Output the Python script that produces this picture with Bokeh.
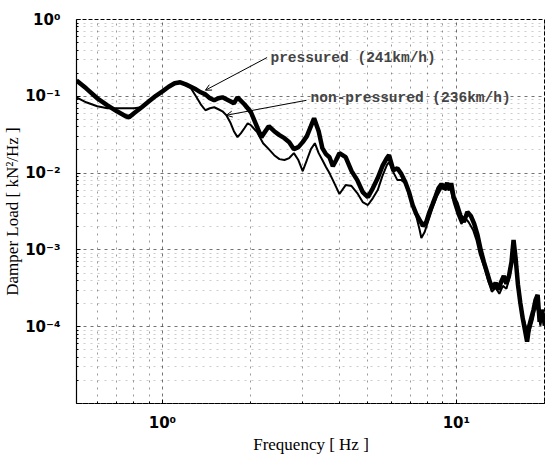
from bokeh.plotting import figure
from bokeh.models import (Range1d, FixedTicker, CustomJSTickFormatter, Label,
                          Arrow, OpenHead)
from bokeh.embed import file_html
from bokeh.resources import INLINE

# Damper load power spectral density, pressured damper (241 km/h)
freq_p = [0.51, 0.55, 0.6, 0.65, 0.7, 0.75, 0.77, 0.8, 0.85, 0.9, 0.95, 1.0, 1.05,
          1.1, 1.15, 1.2, 1.3, 1.35, 1.4, 1.45, 1.5, 1.55, 1.6, 1.7, 1.75, 1.8, 1.9,
          1.95, 2.0, 2.1, 2.17, 2.3, 2.4, 2.5, 2.6, 2.7, 2.8, 2.9, 3.0, 3.1, 3.2,
          3.28, 3.4, 3.5, 3.6, 3.7, 3.8, 3.9, 4.0, 4.2, 4.4, 4.6, 4.8, 5.0, 5.2,
          5.4, 5.6, 5.8, 5.9, 6.1, 6.3, 6.5, 6.7, 6.9, 7.1, 7.3, 7.5, 7.7, 7.9,
          8.1, 8.3, 8.5, 8.7, 8.9, 9.1, 9.3, 9.5, 9.6, 9.8, 10.0, 10.3, 10.6,
          10.9, 11.2, 11.5, 11.8, 12.1, 12.4, 12.7, 13.0, 13.3, 13.6, 13.9, 14.2,
          14.5, 14.8, 15.1, 15.4, 15.65, 15.9, 16.2, 16.5, 16.8, 17.1, 17.4,
          17.7, 18.0, 18.3, 18.6, 18.9, 19.2, 19.5, 19.8, 20.0]
load_p = [0.161, 0.127, 0.0942, 0.0764, 0.0638, 0.055, 0.0534, 0.0602, 0.072,
          0.0861, 0.1015, 0.116, 0.133, 0.1476, 0.152, 0.143, 0.1233, 0.1127,
          0.106, 0.0942, 0.0887, 0.0942, 0.097, 0.0861, 0.0811, 0.097, 0.0787,
          0.0699, 0.062, 0.0396, 0.0294, 0.0408, 0.0351, 0.0312, 0.0285, 0.0253,
          0.0205, 0.0218, 0.0253, 0.0303, 0.0408, 0.0518, 0.0351, 0.0211, 0.0177,
          0.0161, 0.0123, 0.0148, 0.0182, 0.0161, 0.0106, 0.00811, 0.00567,
          0.00488, 0.00638, 0.00861, 0.0123, 0.0157, 0.0171, 0.0109, 0.0116,
          0.0097, 0.00764, 0.00567, 0.00384, 0.00294, 0.00245, 0.00205, 0.00231,
          0.00312, 0.00396, 0.00503, 0.00638, 0.0072, 0.00638, 0.00741, 0.00601,
          0.00741, 0.00473, 0.00408, 0.00285, 0.00231, 0.00312, 0.00277, 0.00218,
          0.00157, 0.001, 0.000698, 0.000518, 0.000384, 0.000312, 0.000373,
          0.000303, 0.000384, 0.000459, 0.000361, 0.000459, 0.000698, 0.00135,
          0.000787, 0.000351, 0.000205, 0.000131, 0.0000915, 0.0000639, 0.000103,
          0.000131, 0.000166, 0.000224, 0.00026, 0.000116, 0.000166, 0.000131,
          0.000103]

# Damper load power spectral density, non-pressured damper (236 km/h)
freq_np = [0.51, 0.55, 0.6, 0.65, 0.7, 0.8, 0.85, 0.9, 0.95, 1.0, 1.05, 1.1, 1.15,
           1.2, 1.25, 1.3, 1.35, 1.4, 1.45, 1.5, 1.55, 1.6, 1.65, 1.7, 1.75, 1.8,
           1.85, 1.9, 1.95, 2.0, 2.1, 2.2, 2.3, 2.4, 2.5, 2.6, 2.7, 2.8, 2.9, 3.0,
           3.1, 3.2, 3.3, 3.4, 3.5, 3.6, 3.7, 3.8, 3.9, 4.0, 4.2, 4.4, 4.6, 4.8,
           5.0, 5.2, 5.4, 5.6, 5.8, 5.9, 6.1, 6.3, 6.5, 6.7, 6.9, 7.1, 7.3, 7.5,
           7.6, 7.8, 8.0, 8.3, 8.6, 8.9, 9.2, 9.5, 9.8, 10.1, 10.4, 10.7, 11.0,
           11.4, 11.7, 12.0, 12.4, 12.8, 13.2, 13.6, 14.0, 14.4, 14.8, 15.2, 15.5,
           15.75, 16.1, 16.4, 16.8, 17.2, 17.5, 17.8, 18.2, 18.6, 19.0, 19.3,
           19.6, 20.0]
load_np = [0.097, 0.0836, 0.0742, 0.0699, 0.0699, 0.0699, 0.072, 0.0861, 0.103,
           0.118, 0.131, 0.143, 0.1497, 0.143, 0.127, 0.1, 0.0787, 0.0658, 0.0699,
           0.072, 0.0678, 0.0638, 0.0567, 0.046, 0.0351, 0.0294, 0.0331, 0.0384,
           0.0446, 0.042, 0.0341, 0.0245, 0.0205, 0.0171, 0.0152, 0.0148, 0.0157,
           0.0182, 0.0148, 0.0106, 0.0148, 0.0205, 0.0245, 0.0182, 0.0148, 0.012,
           0.01, 0.00811, 0.00658, 0.00534, 0.00698, 0.00678, 0.0055, 0.0042,
           0.00384, 0.00473, 0.00601, 0.00914, 0.0127, 0.0139, 0.0103, 0.00811,
           0.00811, 0.00741, 0.00518, 0.00384, 0.00277, 0.00182, 0.00143, 0.00171,
           0.00231, 0.00351, 0.00503, 0.00638, 0.00601, 0.00678, 0.00408, 0.00285,
           0.00218, 0.0026, 0.00231, 0.00182, 0.00135, 0.000887, 0.00062,
           0.000408, 0.000285, 0.000321, 0.000268, 0.00034, 0.000312, 0.000459,
           0.000836, 0.00106, 0.000518, 0.000253, 0.000143, 0.000103, 0.0000764,
           0.0000915, 0.000123, 0.000188, 0.000157, 0.000103, 0.000139, 0.000116]

x_major = [1, 10]
x_minor = [0.6, 0.7, 0.8, 0.9, 2, 3, 4, 5, 6, 7, 8, 9, 20]
y_major = [1e-5, 1e-4, 1e-3, 1e-2, 1e-1, 1]
y_minor = [m * d for d in [1e-5, 1e-4, 1e-3, 1e-2, 1e-1] for m in range(2, 10)]

p = figure(width=545, height=456, x_axis_type="log", y_axis_type="log",
           x_range=Range1d(0.51, 20.1), y_range=Range1d(1e-5, 1),
           output_backend="svg", toolbar_location=None,
           min_border_left=76, min_border_right=0, min_border_top=19,
           min_border_bottom=51)
p.background_fill_color = "white"
p.border_fill_color = "white"
p.outline_line_color = "black"
p.outline_line_dash = "4 2"
p.outline_line_width = 1

p.xaxis.ticker = FixedTicker(ticks=x_major, minor_ticks=x_minor)
p.yaxis.ticker = FixedTicker(ticks=y_major, minor_ticks=y_minor)

fmt = CustomJSTickFormatter(code="""
const sup = {"-": "\u207b", "0": "\u2070", "1": "\u00b9", "2": "\u00b2", "3": "\u00b3",
             "4": "\u2074", "5": "\u2075", "6": "\u2076", "7": "\u2077", "8": "\u2078", "9": "\u2079"};
const e = Math.round(Math.log10(tick));
if (e < -4) { return ""; }
return "10" + String(e).split("").map(c => sup[c]).join("");
""")
for ax in (p.xaxis[0], p.yaxis[0]):
    ax.formatter = fmt
    ax.major_label_text_font = "DejaVu Sans"
    ax.major_label_text_font_style = "bold"
    ax.major_label_text_font_size = "15px"
    ax.major_label_text_color = "black"
    ax.major_tick_in = 4
    ax.major_tick_out = 0
    ax.minor_tick_in = 2
    ax.minor_tick_out = 0
    ax.major_tick_line_color = "black"
    ax.minor_tick_line_color = "black"
    ax.axis_label_text_font = "Liberation Serif"
    ax.axis_label_text_font_size = "17px"
    ax.axis_label_text_font_style = "normal"
    ax.axis_label_text_color = "black"

p.yaxis.axis_label = "Damper Load [ kN\u00b2/Hz ]"
p.yaxis.axis_line_color = "black"
p.yaxis.axis_line_width = 1.2
p.yaxis.major_label_standoff = 16
p.yaxis.axis_label_standoff = 0
p.xaxis.axis_label = "Frequency [ Hz ]"
p.xaxis.axis_line_color = "black"
p.xaxis.axis_line_dash = "4 2"
p.xaxis.major_label_standoff = 10
p.xaxis.axis_label_standoff = 0

for g in (p.xgrid[0], p.ygrid[0]):
    g.grid_line_color = "black"
    g.grid_line_alpha = 0.55
    g.grid_line_dash = "3 4"
    g.minor_grid_line_color = "black"
    g.minor_grid_line_alpha = 0.4
    g.minor_grid_line_dash = "2 5"
p.ygrid[0].minor_grid_line_alpha = 0.2

p.line(freq_np, load_np, line_color="black", line_width=2)
p.line(freq_p, load_p, line_color="black", line_width=4.5)

# leader lines for the curve labels
p.add_layout(Arrow(end=OpenHead(size=6, line_width=1), x_start=2.27, y_start=0.32,
                   x_end=1.40, y_end=0.12, line_width=1))
p.add_layout(Arrow(end=OpenHead(size=6, line_width=1), x_start=3.09, y_start=0.0887,
                   x_end=1.65, y_end=0.0567, line_width=1))
for txt, x, y in [("pressured (241km/h)", 2.33, 0.312),
                  ("non-pressured (236km/h)", 3.19, 0.0942)]:
    p.add_layout(Label(x=x, y=y, text=txt, text_font="Liberation Mono",
                       text_font_style="bold", text_font_size="14.5px",
                       text_baseline="middle", text_align="left"))

open("out.html", "w").write(file_html(p, INLINE))
